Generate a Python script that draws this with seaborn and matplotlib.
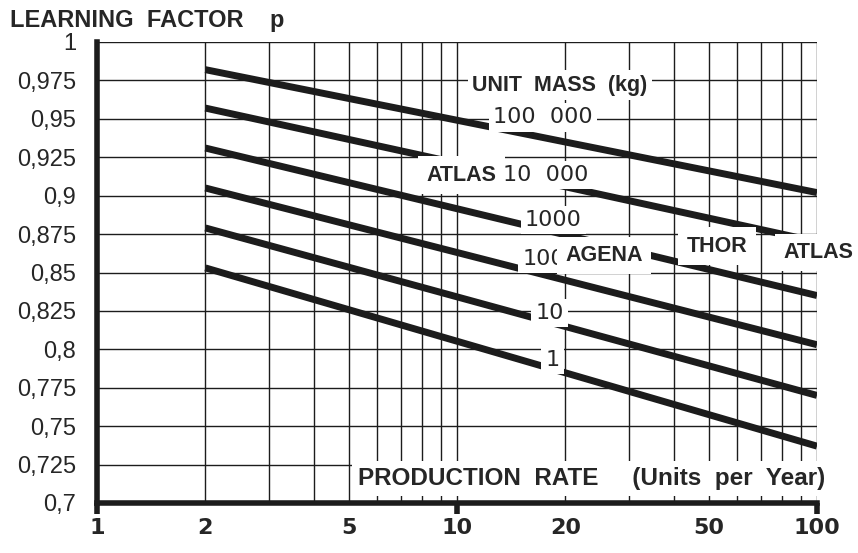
import numpy as np
import pandas as pd
import seaborn as sns
import matplotlib.pyplot as plt
from matplotlib.ticker import FixedLocator, NullFormatter

# ---------------------------------------
# Data: learning factor vs production rate
# ---------------------------------------
unit_mass = ["100 000", "10 000", "1000", "100", "10", "1"]
rate_start = 2
rate_end = 100
p_start = [0.982, 0.957, 0.931, 0.905, 0.879, 0.853]
p_end = [0.902, 0.870, 0.835, 0.803, 0.770, 0.737]

y_ticks = [0.7, 0.725, 0.75, 0.775, 0.8, 0.825, 0.85, 0.875, 0.9, 0.925, 0.95, 0.975, 1.0]
y_labels = ["0,7", "0,725", "0,75", "0,775", "0,8", "0,825", "0,85", "0,875",
            "0,9", "0,925", "0,95", "0,975", "1"]
x_ticks = [1, 2, 5, 10, 20, 50, 100]
x_grid = [3, 4, 6, 7, 8, 9, 30, 40, 60, 70, 80, 90]

df = pd.DataFrame({
    "mass": unit_mass * 2,
    "rate": [rate_start] * 6 + [rate_end] * 6,
    "p": p_start + p_end,
})

# label texts and where they sit (data coords)
mass_labels = ["100  000", "10  000", "1000", "100", "10", "1"]
mass_pos = [(17.3, 0.951), (17.6, 0.9134), (18.5, 0.884), (17.4, 0.859), (18.1, 0.8236), (18.4, 0.793)]
missiles = ["ATLAS", "AGENA", "THOR", "ATLAS"]
missile_pos = [(10.3, 0.9134), (25.6, 0.861), (52.7, 0.867), (101.0, 0.863)]

# ---------------------------------------
# Plot
# ---------------------------------------
sns.set_style("white")
plt.rcParams["font.family"] = ["Liberation Sans", "DejaVu Sans"]
ink = "#1c1c1c"

fig = plt.figure(figsize=(8.58, 5.53), dpi=100)
ax = fig.add_axes([97 / 858, 1 - 503 / 553, 720 / 858, 461 / 553])

sns.lineplot(data=df, x="rate", y="p", hue="mass", palette=[ink] * 6,
             linewidth=5, legend=False, ax=ax, solid_capstyle="butt")

ax.set_xscale("log")
ax.set_xlim(1, 100)
ax.set_ylim(0.7, 1.0)

ax.xaxis.set_major_locator(FixedLocator(x_ticks))
ax.set_xticklabels([str(v) for v in x_ticks], fontsize=16, fontweight="bold",
                   family="DejaVu Sans")
ax.xaxis.set_minor_locator(FixedLocator(x_grid))
ax.xaxis.set_minor_formatter(NullFormatter())
ax.tick_params(axis="x", which="both", length=0, pad=11)

ax.set_yticks(y_ticks)
ax.set_yticklabels(y_labels, fontsize=17)
ax.tick_params(axis="y", length=8, width=3.5, direction="out", pad=7, color=ink)

ax.grid(True, which="both", color=ink, linewidth=1.0)
ax.set_axisbelow(True)

for s in ["top", "right"]:
    ax.spines[s].set_visible(False)
for s in ["left", "bottom"]:
    ax.spines[s].set_linewidth(4)
    ax.spines[s].set_color(ink)

# big ticks at the decades
sec = ax.secondary_xaxis("bottom")
sec.set_xticks([1, 10, 100])
sec.xaxis.set_minor_locator(FixedLocator([]))
sec.set_xticklabels([])
sec.tick_params(length=8, width=4, color=ink)
sec.spines["bottom"].set_visible(False)

ax.set_xlabel("")
ax.set_ylabel("")

box = dict(facecolor="white", edgecolor="none", pad=3)

ax.text(19.3, 0.972, "UNIT  MASS  (kg)", fontsize=15.5, fontweight="bold",
        ha="center", va="center", bbox=box)
for lab, (xx, yy) in zip(mass_labels, mass_pos):
    ax.text(xx, yy, lab, fontsize=16, family="DejaVu Sans",
            ha="center", va="center", bbox=box, zorder=4)
for i, (lab, (xx, yy)) in enumerate(zip(missiles, missile_pos)):
    ax.text(xx, yy, lab, fontsize=15.5, fontweight="bold", ha="center", va="center",
            bbox=dict(facecolor="white", edgecolor="none", pad=6), zorder=5 if i == 1 else 4)

ax.text(23.6, 0.716, "PRODUCTION  RATE     (Units  per  Year)", fontsize=17.5,
        fontweight="bold", ha="center", va="center",
        bbox=dict(facecolor="white", edgecolor="none", pad=4), zorder=4)

fig.text(10 / 858, 1 - 20 / 553, "LEARNING  FACTOR    p", fontsize=17,
         fontweight="bold", ha="left", va="center")

fig.savefig("out.png", dpi=100)
